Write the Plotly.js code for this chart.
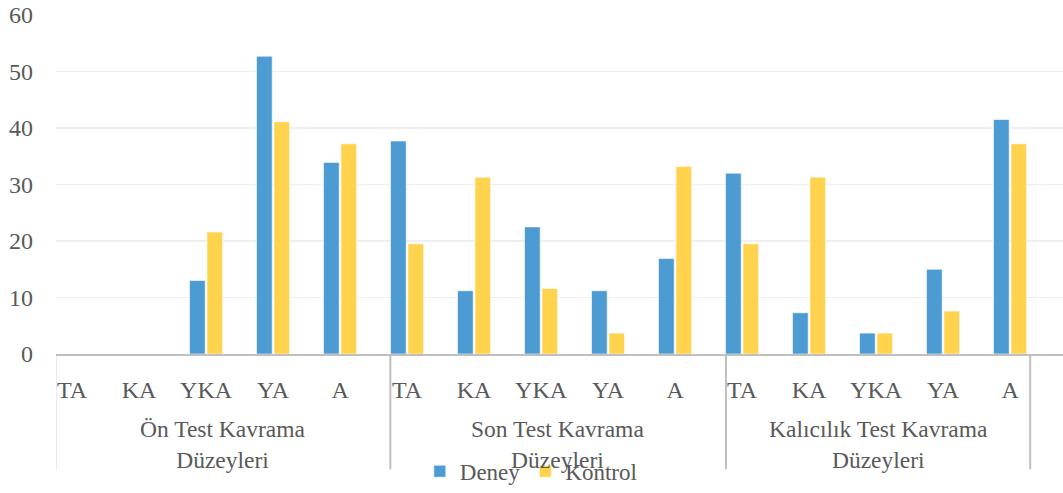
<!DOCTYPE html>
<html><head><meta charset="utf-8">
<script src="https://cdn.plot.ly/plotly-3.0.1.min.js"></script>
<style>html,body{margin:0;padding:0;background:#fff}#chart{width:1063px;height:493px}</style>
</head><body><div id="chart"></div>
<script>
const levels = ["TA","KA","YKA","YA","A","TA","KA","YKA","YA","A","TA","KA","YKA","YA","A"];
const groups = ["Ön Test Kavrama<br>Düzeyleri","Son Test Kavrama<br>Düzeyleri","Kalıcılık Test Kavrama<br>Düzeyleri"];
const deney   = [0,0,13.0,52.7,33.9, 37.7,11.2,22.5,11.2,16.9, 32.0,7.3,3.7,15.0,41.5];
const kontrol = [0,0,21.6,41.1,37.2, 19.5,31.3,11.6,3.7,33.2, 19.5,31.3,3.7,7.6,37.2];
const idx = levels.map((_, i) => i);

const F = (s) => ({family: '"Liberation Serif","Times New Roman",serif', color: '#595959', size: s});
const lineCol = '#bfbfbf';

const traces = [
  {type:'bar', name:'Deney', x: idx, y: deney, marker:{color:'#4d9bd3', line:{color:'rgba(255,255,255,0.6)', width:1}}},
  {type:'bar', name:'Kontrol', x: idx, y: kontrol, marker:{color:'#ffd34d', line:{color:'rgba(255,255,255,0.6)', width:1}}}
];

const bounds = [-0.25, 4.75, 9.76, 14.3];
const groupCenters = [2.25, 7.25, 12.03];
const shapes = bounds.map(b => ({type:'line', xref:'x', yref:'paper', x0:b, x1:b, y0:0, y1:-0.34, line:{color:lineCol, width:2}}));
const annotations = groups.map((g, i) => ({xref:'x', yref:'paper', x: groupCenters[i], y: -0.268, yanchor:'middle', xanchor:'center', text: g, showarrow:false, font: F(23.5)}));

const layout = {
  width:1063, height:493,
  margin:{l:56, r:0, t:15, b:134},
  paper_bgcolor:'#fff', plot_bgcolor:'#fff',
  barmode:'group', bargap:0.48, bargroupgap:0.1,
  font: F(22),
  xaxis:{range:[-0.24, 14.79], tickvals: idx, ticktext: levels, showgrid:false, zeroline:false,
         showline:true, linecolor:lineCol, linewidth:2, ticks:'', tickfont: F(24), ticklabelstandoff: 13, fixedrange:true},
  yaxis:{range:[0,60], dtick:10, showgrid:true, gridcolor:'#efefef', gridwidth:1.5, zeroline:false,
         showline:false, ticks:'', tickfont: F(24), ticklabelstandoff: 22},
  showlegend:true,
  legend:{orientation:'h', x:0.472, xanchor:'center', y:-0.346, yanchor:'middle', font: F(23), bgcolor:'rgba(0,0,0,0)', itemwidth:30, tracegroupgap:0},
  shapes: shapes, annotations: annotations
};
Plotly.newPlot('chart', traces, layout, {displayModeBar:false, staticPlot:true});
</script></body></html>
